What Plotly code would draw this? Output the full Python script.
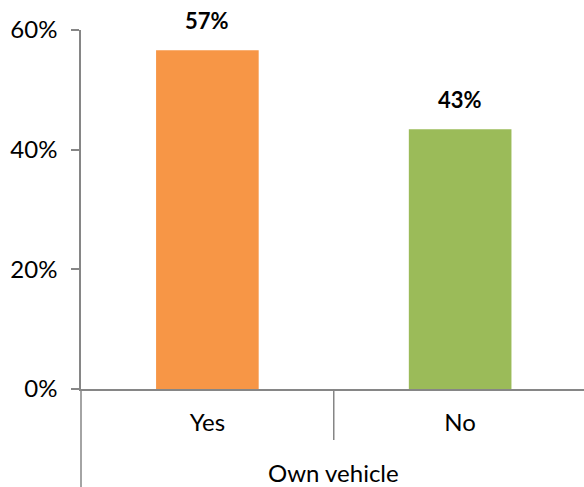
import plotly.graph_objects as go

# Share of respondents by vehicle ownership
categories = ["Yes", "No"]
shares = [56.6, 43.4]
bar_colors = ["#F79646", "#9BBB59"]
group_label = "Own vehicle"
y_ticks = [0, 20, 40, 60]
y_tick_labels = ["0%", "20%", "40%", "60%"]

axis_grey = "#868686"
font_family = "Lato, 'Open Sans', sans-serif"

fig = go.Figure()
fig.add_trace(go.Bar(
    x=categories,
    y=shares,
    marker=dict(color=bar_colors, line=dict(width=0)),
    hoverinfo="skip",
))

# value labels above each bar
for cat, val in zip(categories, shares):
    fig.add_annotation(
        x=cat, y=val, xref="x", yref="y",
        text=f"<b>{val:.0f}%</b>",
        showarrow=False, yanchor="bottom", yshift=14,
        font=dict(family=font_family, size=22, color="#000000"),
    )

# Excel-style category dividers below the axis
fig.add_shape(type="line", xref="x", yref="paper", x0=0.5, x1=0.5, y0=0, y1=-0.142,
              line=dict(color=axis_grey, width=1.5))
fig.add_shape(type="line", xref="paper", yref="paper", x0=0, x1=0, y0=0, y1=-0.28,
              line=dict(color=axis_grey, width=1.5))

# outer group label, centred on the category divider
fig.add_annotation(
    x=0.5, y=-0.232, xref="x", yref="paper",
    text=group_label, showarrow=False, yanchor="middle",
    font=dict(family=font_family, size=24, color="#000000"),
)

fig.update_layout(
    width=584, height=487,
    margin=dict(l=81, r=0, t=30, b=98),
    paper_bgcolor="white", plot_bgcolor="white",
    showlegend=False,
    bargap=0.594,
    font=dict(family=font_family, size=24, color="#000000"),
)
fig.update_xaxes(
    type="category",
    range=[-0.5, 1.49],
    showline=True, linecolor=axis_grey, linewidth=1.5,
    ticks="", showgrid=False, zeroline=False,
    ticklabelstandoff=11,
    tickfont=dict(family=font_family, size=24, color="#000000"),
)
fig.update_yaxes(
    range=[0, 60],
    tickvals=y_ticks, ticktext=y_tick_labels,
    showline=True, linecolor=axis_grey, linewidth=1.5,
    ticks="outside", ticklen=8, tickcolor=axis_grey, tickwidth=1.5,
    showgrid=False, zeroline=False,
    ticklabelstandoff=9,
    tickfont=dict(family=font_family, size=24, color="#000000"),
)

fig.write_html("out.html")
